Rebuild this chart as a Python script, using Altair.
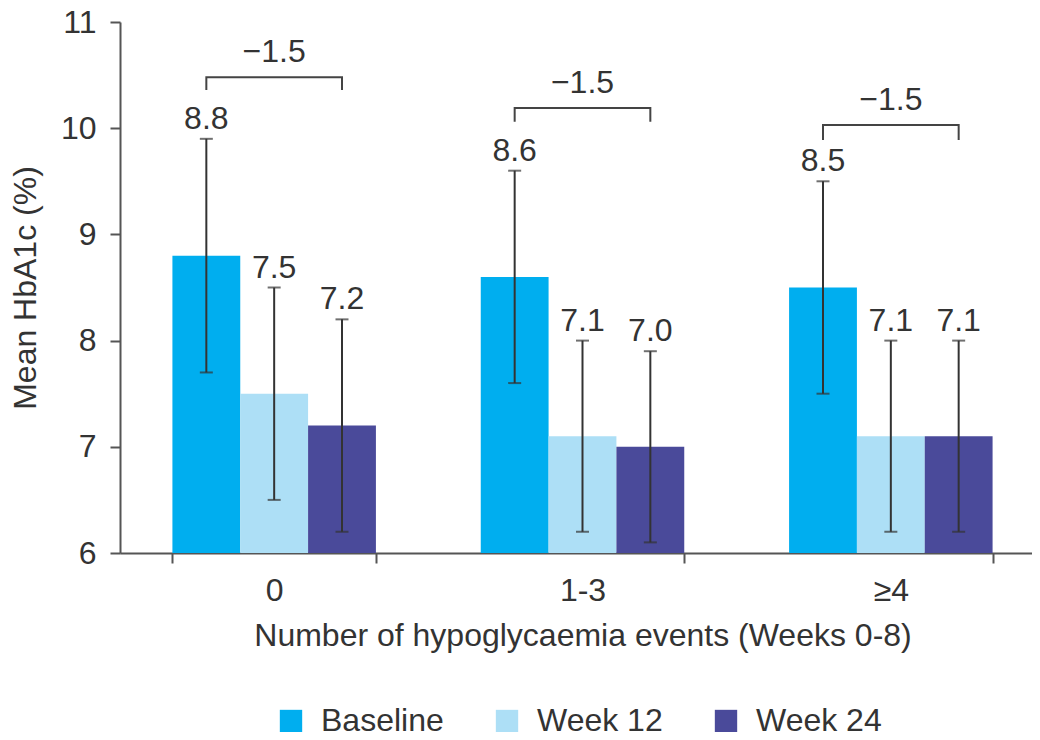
import altair as alt
import pandas as pd

groups = ["0", "1-3", "≥4"]
series = ["Baseline", "Week 12", "Week 24"]
colors = ["#00AEEF", "#ADDFF6", "#4A4A9A"]

mean_baseline = [8.8, 8.6, 8.5]
mean_week12 = [7.5, 7.1, 7.1]
mean_week24 = [7.2, 7.0, 7.1]

low_baseline = [7.7, 7.6, 7.5]
low_week12 = [6.5, 6.2, 6.2]
low_week24 = [6.2, 6.1, 6.2]

up_baseline = [9.9, 9.6, 9.5]
up_week12 = [8.5, 8.0, 8.0]
up_week24 = [8.2, 7.9, 8.0]

diff_labels = ["\u22121.5", "\u22121.5", "\u22121.5"]
bracket_top = [10.48, 10.19, 10.03]
bracket_bottom = [10.36, 10.06, 9.89]

rows = []
for s, m, lo, up in [
    ("Baseline", mean_baseline, low_baseline, up_baseline),
    ("Week 12", mean_week12, low_week12, up_week12),
    ("Week 24", mean_week24, low_week24, up_week24),
]:
    for g, mv, lv, uv in zip(groups, m, lo, up):
        rows.append({"group": g, "series": s, "mean": mv, "lower": lv, "upper": uv})
df = pd.DataFrame(rows)

brows = []
for g, t, b in zip(groups, bracket_top, bracket_bottom):
    brows += [
        {"group": g, "series": "Baseline", "y": b, "i": 0},
        {"group": g, "series": "Baseline", "y": t, "i": 1},
        {"group": g, "series": "Week 24", "y": t, "i": 2},
        {"group": g, "series": "Week 24", "y": b, "i": 3},
    ]
bdf = pd.DataFrame(brows)
ldf = pd.DataFrame({"group": groups, "label": diff_labels, "y": bracket_top})

TXT = "#333333"
FONT = "Liberation Sans"
FS = 32

x_enc = alt.X(
    "group:N",
    sort=groups,
    scale=alt.Scale(paddingInner=0.34, paddingOuter=0.17, range=[0, 925]),
    axis=alt.Axis(
        title="Number of hypoglycaemia events (Weeks 0-8)",
        labelAngle=0,
        tickBand="extent",
        tickSize=10,
        labelPadding=12,
        titlePadding=14,
    ),
)
xo = alt.XOffset("series:N", sort=series, scale=alt.Scale(paddingInner=0, paddingOuter=0))
y_scale = alt.Scale(domain=[6, 11], zero=False, nice=False)
y_axis = alt.Axis(
    title="Mean HbA1c (%)",
    values=[6, 7, 8, 9, 10, 11],
    format="d",
    tickSize=10,
    labelPadding=14,
    titlePadding=18,
    grid=False,
)

bars = alt.Chart(df).mark_bar().encode(
    x=x_enc,
    xOffset=xo,
    y=alt.Y("mean:Q", scale=y_scale, axis=y_axis),
    y2=alt.datum(6),
    color=alt.Color(
        "series:N",
        sort=series,
        scale=alt.Scale(domain=series, range=colors),
        legend=alt.Legend(
            title=None,
            orient="none",
            legendX=155,
            legendY=683,
            direction="horizontal",
            symbolType="square",
            symbolSize=500,
            symbolStrokeWidth=0,
            labelFontSize=FS,
            labelColor=TXT,
            labelFont=FONT,
            labelOffset=14,
            columnPadding=47,
            padding=0,
        ),
    ),
)

err = alt.Chart(df).mark_rule(color=TXT, strokeWidth=2).encode(
    x=alt.X("group:N", sort=groups),
    xOffset=xo,
    y=alt.Y("lower:Q", scale=y_scale),
    y2="upper:Q",
)
cap_lo = alt.Chart(df).mark_tick(color=TXT, size=13, thickness=2, orient="horizontal").encode(
    x=alt.X("group:N", sort=groups),
    xOffset=xo,
    y=alt.Y("lower:Q", scale=y_scale),
)
cap_up = alt.Chart(df).mark_tick(color=TXT, size=13, thickness=2, orient="horizontal").encode(
    x=alt.X("group:N", sort=groups),
    xOffset=xo,
    y=alt.Y("upper:Q", scale=y_scale),
)
vals = alt.Chart(df).mark_text(
    fontSize=FS, font=FONT, color=TXT, baseline="alphabetic", dy=-10
).encode(
    x=alt.X("group:N", sort=groups),
    xOffset=xo,
    y=alt.Y("upper:Q", scale=y_scale),
    text=alt.Text("mean:Q", format=".1f"),
)
bracket = alt.Chart(bdf).mark_line(color="#444444", strokeWidth=2).encode(
    x=alt.X("group:N", sort=groups),
    xOffset=alt.XOffset("series:N", sort=series, scale=alt.Scale(domain=series)),
    y=alt.Y("y:Q", scale=y_scale),
    detail="group:N",
    order="i:Q",
)
blabels = alt.Chart(ldf).mark_text(
    fontSize=FS, font=FONT, color=TXT, baseline="alphabetic", dy=-15
).encode(
    x=alt.X("group:N", sort=groups),
    y=alt.Y("y:Q", scale=y_scale),
    text="label:N",
)

chart = (
    alt.layer(bars, err, cap_lo, cap_up, vals, bracket, blabels)
    .resolve_scale(xOffset="shared")
    .properties(
        width=912,
        height=531,
        autosize=alt.AutoSizeParams(type="none"),
        padding={"left": 112, "top": 14, "right": 0, "bottom": 179},
    )
    .configure(font=FONT)
    .configure_view(stroke=None)
    .configure_axis(
        labelFontSize=FS,
        titleFontSize=FS,
        titleFontWeight="normal",
        labelColor=TXT,
        titleColor=TXT,
        labelFont=FONT,
        titleFont=FONT,
        domainColor="#555555",
        tickColor="#555555",
        domainWidth=2,
        tickWidth=2,
    )
)

chart.save("out.html", embed_options={"renderer": "svg", "actions": False})
